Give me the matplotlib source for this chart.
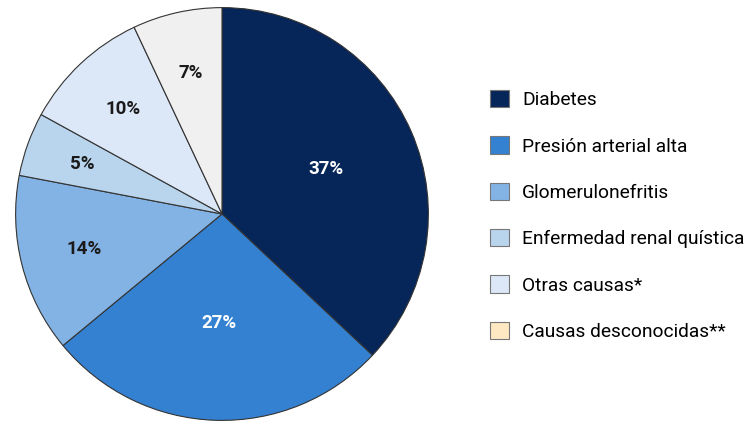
import numpy as np
import matplotlib.pyplot as plt
from matplotlib.patches import Patch

plt.rcParams['font.family'] = ['Roboto', 'DejaVu Sans']

causas = ['Diabetes', 'Presión arterial alta', 'Glomerulonefritis',
          'Enfermedad renal quística', 'Otras causas*', 'Causas desconocidas**']
porcentajes = [37, 27, 14, 5, 10, 7]
colores = ['#062558', '#3581d1', '#83b3e4', '#b9d4ed', '#dce8f7', '#f0f0f0']
colores_leyenda = ['#062558', '#3581d1', '#83b3e4', '#b9d4ed', '#dce8f7', '#fde8c3']
color_texto = ['white', 'white', '#1a1a1a', '#1a1a1a', '#1a1a1a', '#1a1a1a']
dist_etiqueta = [0.55, 0.53, 0.69, 0.72, 0.70, 0.70]

fig = plt.figure(figsize=(7.49, 4.23), dpi=100)
ax = fig.add_axes([15 / 749, 2 / 423, 414 / 749, 414 / 423])

wedges, texts, autotexts = ax.pie(
    porcentajes, colors=colores, startangle=90, counterclock=False,
    autopct='%d%%', wedgeprops=dict(edgecolor='#333333', linewidth=0.8))
for w, t, c, d in zip(wedges, autotexts, color_texto, dist_etiqueta):
    ang = np.deg2rad((w.theta1 + w.theta2) / 2)
    t.set_position((d * np.cos(ang), d * np.sin(ang)))
    t.set_color(c)
    t.set_fontsize(13.5)
    t.set_fontweight('bold')
ax.set_xlim(-1.003, 1.003)
ax.set_ylim(-1.003, 1.003)
ax.set_aspect('equal')

handles = [Patch(facecolor=c, edgecolor='#777777', linewidth=0.8) for c in colores_leyenda]
fig.legend(handles, causas, loc='upper left', bbox_to_anchor=(490 / 749, 1 - 90 / 423),
           frameon=False, fontsize=13.8, handlelength=1.0, handleheight=1.0,
           handletextpad=0.68, labelspacing=1.42, borderaxespad=0, borderpad=0)

fig.savefig('out.png', dpi=100, facecolor='white')
